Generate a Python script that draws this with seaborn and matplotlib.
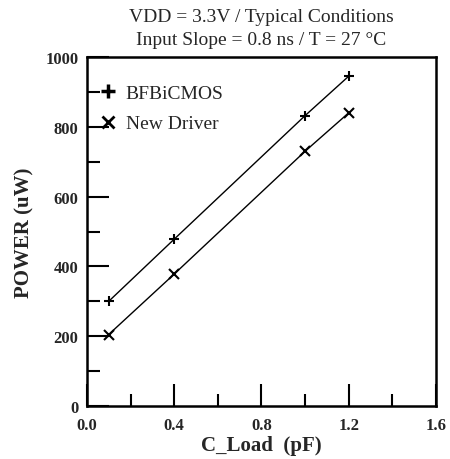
import matplotlib
matplotlib.use("Agg")
import matplotlib.pyplot as plt
import seaborn as sns
import pandas as pd
from matplotlib.ticker import MultipleLocator
from matplotlib.lines import Line2D

c_load = [0.1, 0.4, 1.0, 1.2]
bfbicmos = [300, 478, 832, 945]
new_driver = [205, 378, 730, 840]
series_names = ["BFBiCMOS", "New Driver"]
x_ticks = [0.0, 0.4, 0.8, 1.2, 1.6]
y_ticks = [0, 200, 400, 600, 800, 1000]

df = pd.DataFrame({
    "C_Load": c_load * 2,
    "Power": bfbicmos + new_driver,
    "Series": [series_names[0]] * len(c_load) + [series_names[1]] * len(c_load),
})

sns.set_style("ticks")
plt.rcParams["font.family"] = ["Liberation Serif", "DejaVu Serif"]

fig = plt.figure(figsize=(4.5, 4.6), dpi=100)
ax = fig.add_axes([0.193, 0.115, 0.776, 0.759])

sns.lineplot(data=df, x="C_Load", y="Power", hue="Series", style="Series",
             markers={"BFBiCMOS": "+", "New Driver": "x"}, dashes=False,
             palette={"BFBiCMOS": "black", "New Driver": "black"},
             linewidth=1.0, markersize=7, markeredgewidth=1.5,
             markeredgecolor="black", ax=ax, legend=False)

ax.set_xlim(0, 1.6)
ax.set_ylim(0, 1000)
ax.set_xticks(x_ticks)
ax.set_yticks(y_ticks)
ax.xaxis.set_minor_locator(MultipleLocator(0.2))
ax.yaxis.set_minor_locator(MultipleLocator(100))
ax.set_xticklabels([f"{v:.1f}" for v in x_ticks], fontweight="bold", fontsize=12)
ax.set_yticklabels([str(v) for v in y_ticks], fontweight="bold", fontsize=12)
ax.tick_params(which="major", direction="in", length=16, width=1.5, color="black")
ax.tick_params(axis="x", which="major", pad=8)
ax.tick_params(axis="y", which="major", pad=6)
ax.tick_params(which="minor", direction="in", length=9, width=1.5, color="black")
for s in ax.spines.values():
    s.set_linewidth(1.8)
    s.set_color("black")

ax.set_xlabel("C_Load  (pF)", fontweight="bold", fontsize=15, labelpad=1)
ax.set_ylabel("POWER (uW)", fontweight="bold", fontsize=15, labelpad=8)

handles = [Line2D([], [], color="black", marker="+", linestyle="none", markersize=10, markeredgewidth=2.5),
           Line2D([], [], color="black", marker="x", linestyle="none", markersize=8, markeredgewidth=2.0)]
leg = ax.legend(handles, series_names, loc="upper left", bbox_to_anchor=(0.0, 0.96),
                frameon=False, fontsize=14, handlelength=0.8, handletextpad=0.5,
                labelspacing=0.65, borderaxespad=0.3)

fig.text(0.58, 0.962, "VDD = 3.3V / Typical Conditions", ha="center", va="center", fontsize=14)
fig.text(0.58, 0.912, "Input Slope = 0.8 ns / T = 27 \u00b0C", ha="center", va="center", fontsize=14)

fig.savefig("out.png", dpi=100, facecolor="white")
